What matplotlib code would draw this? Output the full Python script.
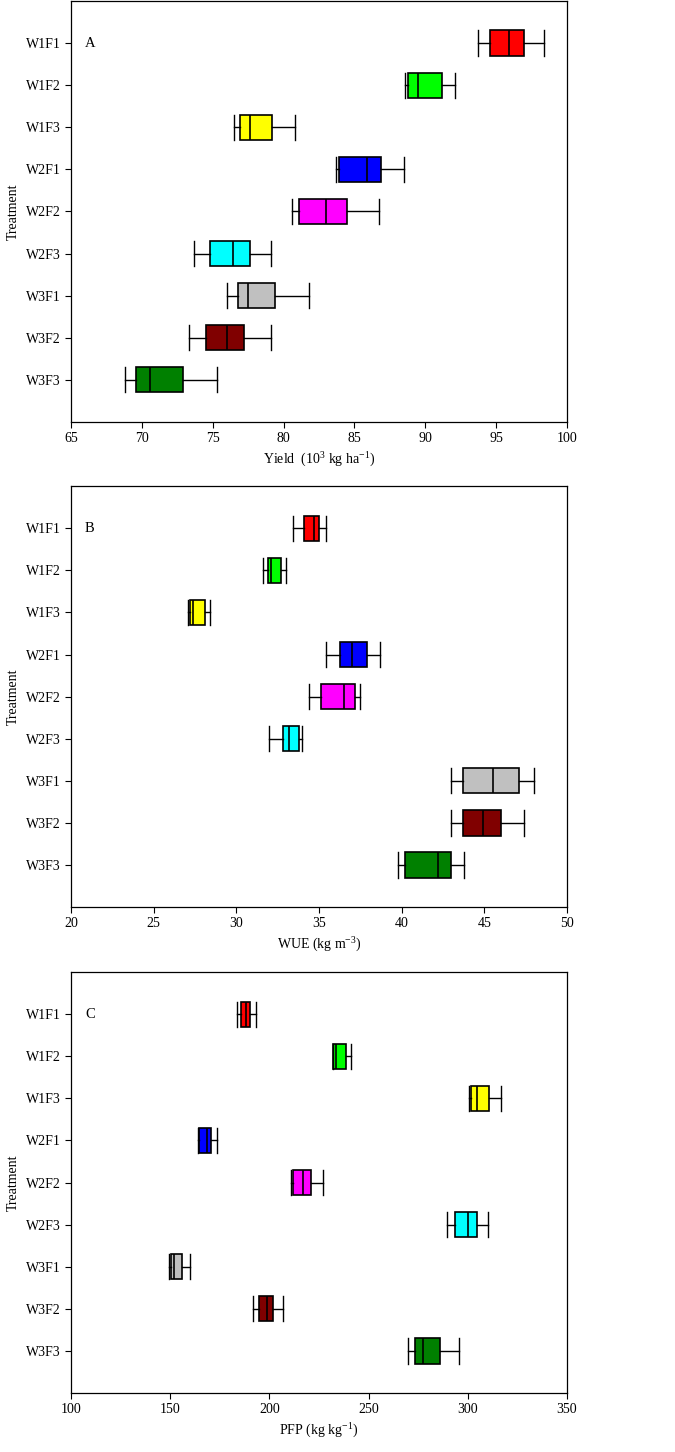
import matplotlib.pyplot as plt
import numpy as np

plt.rcParams['font.family'] = ['Liberation Serif', 'DejaVu Serif']
plt.rcParams['mathtext.fontset'] = 'custom'
plt.rcParams['mathtext.rm'] = 'Liberation Serif'
plt.rcParams['mathtext.it'] = 'Liberation Serif:italic'

treatments = ['W1F1', 'W1F2', 'W1F3', 'W2F1', 'W2F2', 'W2F3', 'W3F1', 'W3F2', 'W3F3']
colors = ['#ff0000', '#00ff00', '#ffff00', '#0000ff', '#ff00ff', '#00ffff',
          '#c0c0c0', '#800000', '#008000']

# panel A: yield (10^3 kg/ha)
yield_low = [93.7, 88.6, 76.5, 83.7, 80.6, 73.7, 76.0, 73.3, 68.8]
yield_q1 = [94.6, 88.8, 76.9, 83.9, 81.1, 74.8, 76.8, 74.5, 69.6]
yield_med = [95.9, 89.5, 77.6, 85.9, 83.0, 76.4, 77.5, 76.0, 70.6]
yield_q3 = [97.0, 91.2, 79.2, 86.9, 84.5, 77.6, 79.4, 77.2, 72.9]
yield_high = [98.4, 92.1, 80.8, 88.5, 86.7, 79.1, 81.8, 79.1, 75.3]

# panel B: WUE (kg/m3)
wue_low = [33.4, 31.6, 27.1, 35.4, 34.4, 32.0, 43.0, 43.0, 39.8]
wue_q1 = [34.1, 31.9, 27.2, 36.3, 35.1, 32.8, 43.7, 43.7, 40.2]
wue_med = [34.7, 32.1, 27.4, 37.0, 36.5, 33.2, 45.5, 44.9, 42.2]
wue_q3 = [35.0, 32.7, 28.1, 37.9, 37.2, 33.8, 47.1, 46.0, 43.0]
wue_high = [35.4, 33.0, 28.4, 38.7, 37.5, 34.0, 48.0, 47.4, 43.8]

# panel C: PFP (kg/kg)
pfp_low = [183.7, 232.1, 300.6, 164.2, 210.9, 289.3, 149.2, 191.6, 270.0]
pfp_q1 = [185.5, 232.2, 301.8, 164.4, 212.0, 293.7, 150.4, 194.8, 273.2]
pfp_med = [188.0, 233.4, 304.6, 168.5, 217.1, 299.9, 151.7, 198.8, 277.3]
pfp_q3 = [190.4, 238.6, 310.7, 170.4, 221.1, 304.6, 155.8, 202.0, 286.0]
pfp_high = [193.1, 241.0, 316.9, 173.6, 226.9, 310.3, 160.1, 207.0, 295.4]

panels = [
    ('A', yield_low, yield_q1, yield_med, yield_q3, yield_high, (65, 100), 5,
     'Yield  (10$^{3}$ kg ha$^{-1}$)'),
    ('B', wue_low, wue_q1, wue_med, wue_q3, wue_high, (20, 50), 5,
     'WUE (kg m$^{-3}$)'),
    ('C', pfp_low, pfp_q1, pfp_med, pfp_q3, pfp_high, (100, 350), 50,
     'PFP (kg kg$^{-1}$)'),
]

fig = plt.figure(figsize=(6.75, 14.52), dpi=100)
rects = [[0.1052, 0.7094, 0.7348, 0.2899],
         [0.1052, 0.3753, 0.7348, 0.2899],
         [0.1052, 0.0406, 0.7348, 0.2899]]

pos = np.arange(1, len(treatments) + 1)
for rect, (letter, lo, q1, med, q3, hi, xlim, step, xlabel) in zip(rects, panels):
    ax = fig.add_axes(rect)
    stats = [dict(whislo=lo[i], q1=q1[i], med=med[i], q3=q3[i], whishi=hi[i],
                  fliers=[]) for i in range(len(treatments))]
    bp = ax.bxp(stats, positions=pos, widths=0.6, capwidths=0.6,
                orientation='horizontal', patch_artist=True, showfliers=False,
                boxprops=dict(linewidth=1.2, edgecolor='black'),
                medianprops=dict(color='black', linewidth=1.2),
                whiskerprops=dict(color='black', linewidth=1.0),
                capprops=dict(color='black', linewidth=1.0))
    for patch, c in zip(bp['boxes'], colors):
        patch.set_facecolor(c)

    ax.set_ylim(10, 0)
    ax.set_yticks(pos)
    ax.set_yticklabels(treatments)
    ax.set_xlim(*xlim)
    ax.set_xticks(np.arange(xlim[0], xlim[1] + 1, step))
    ax.tick_params(labelsize=10, length=4, width=0.8)
    ax.set_xlabel(xlabel, fontsize=10)
    ax.set_ylabel('Treatment', fontsize=10)
    ax.text(0.038, 0.9, letter, transform=ax.transAxes, fontsize=10.5,
            ha='center', va='center')
    for s in ax.spines.values():
        s.set_linewidth(0.9)

fig.savefig('out.png', dpi=100)
